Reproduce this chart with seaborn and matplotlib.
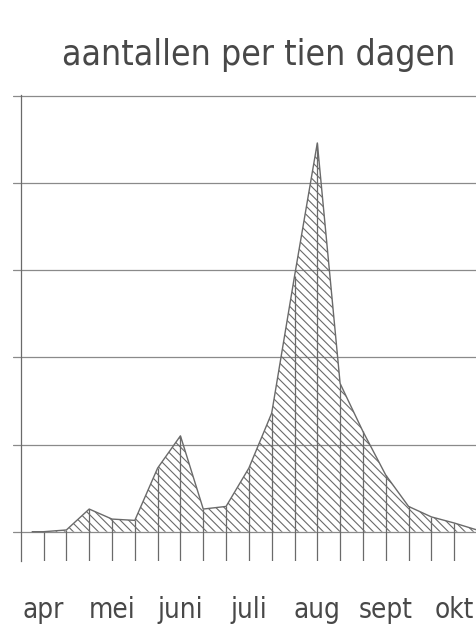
import matplotlib
matplotlib.use("Agg")
import matplotlib.pyplot as plt
from matplotlib import font_manager, transforms
import pandas as pd
import seaborn as sns

# ---- data (one value per ten-day period) ----
decade = [0.5, 1, 2, 3, 4, 5, 6, 7, 8, 9, 10, 11, 12, 13, 14, 15, 16, 17, 18, 19, 20]
aantal = [0.0, 0.0, 0.02, 0.26, 0.145, 0.13, 0.73, 1.10, 0.26, 0.29, 0.73,
          1.36, 2.93, 4.46, 1.70, 1.15, 0.65, 0.29, 0.17, 0.10, 0.02]
months = ["apr", "mei", "juni", "juli", "aug", "sept", "okt"]
month_pos = [1, 4, 7, 10, 13, 16, 19]
grid_levels = [0, 1, 2, 3, 4, 5]
title = "aantallen per tien dagen"

df = pd.DataFrame({"decade": decade, "aantal": aantal})
stems = df[df["decade"] % 1 == 0]

# ---- font choice: prefer a narrow / condensed grotesque ----
names = {f.name for f in font_manager.fontManager.ttflist}
family, stretch, title_size, month_size = "Liberation Sans", "normal", 24, 17
if "Liberation Sans Narrow" in names:
    family, title_size, month_size = "Liberation Sans Narrow", 32, 22
elif any(f.name == "DejaVu Sans" and str(f.stretch) == "condensed" for f in font_manager.fontManager.ttflist):
    family, stretch, title_size, month_size = "DejaVu Sans", "condensed", 25.5, 20

sns.set_theme(style="white")
plt.rcParams["font.family"] = [family, "DejaVu Sans"]
plt.rcParams["hatch.linewidth"] = 0.8

line_col = "#6a6a6a"
grid_col = "#8a8a8a"
text_col = "#484848"

fig = plt.figure(figsize=(4.77, 6.25), dpi=100)
W, H = 477.0, 625.0
ax = fig.add_axes([13 / W, (H - 561) / H, 464 / W, (561 - 95) / H])
ax.set_xlim(-0.34, 20.0)
ax.set_ylim(-0.336, 5.01)

# horizontal grid lines
ax.set_yticks(grid_levels)
ax.yaxis.grid(True, color=grid_col, linewidth=0.9)
ax.xaxis.grid(False)
ax.set_xticks([])
ax.tick_params(left=False, labelleft=False, bottom=False, labelbottom=False)

for s in ["top", "right", "bottom"]:
    ax.spines[s].set_visible(False)
ax.spines["left"].set_position(("data", 0))
ax.spines["left"].set_color(line_col)
ax.spines["left"].set_linewidth(0.9)

# hatched area
ax.fill_between(df["decade"], 0, df["aantal"], facecolor="none",
                edgecolor=line_col, linewidth=0, hatch="\\\\\\\\", zorder=2)

# vertical lines per ten-day period (from below baseline up to the curve)
ax.vlines(stems["decade"], -0.336, stems["aantal"], color=line_col,
          linewidth=0.9, zorder=3)

# outline
sns.lineplot(data=df, x="decade", y="aantal", color=line_col, linewidth=1.0,
             ax=ax, zorder=4)
ax.set_xlabel("")
ax.set_ylabel("")

# month labels
trans = transforms.blended_transform_factory(ax.transData, fig.transFigure)
for m, p in zip(months, month_pos):
    ax.text(p, (H - 618) / H, m, transform=trans, ha="center", va="baseline",
            fontsize=month_size, color=text_col, fontstretch=stretch)

fig.text(258.5 / W, (H - 65) / H, title, ha="center", va="baseline",
         fontsize=title_size, color=text_col, fontstretch=stretch)

fig.savefig("out.png", dpi=100)
